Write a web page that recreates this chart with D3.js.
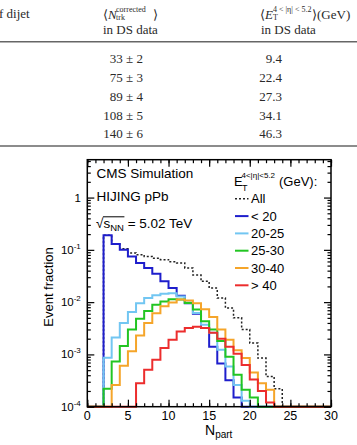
<!DOCTYPE html>
<html>
<head>
<meta charset="utf-8">
<script src="https://cdn.jsdelivr.net/npm/d3@7"></script>
<style>
  body { margin: 0; background: #fff; }
  svg { display: block; }
</style>
</head>
<body>
<div class="holder"></div>
<script>
// bins of N_part, width 1, from 0 to 30
const binLow = d3.range(0, 30);

// event fraction per bin (0 = empty bin)
const fracAll = [0, 0, 0.19, 0.13, 0.105, 0.087, 0.081, 0.075, 0.069, 0.065, 0.059, 0.056, 0.045, 0.033, 0.025,
  0.0186, 0.012, 0.0077, 0.005, 0.003, 0.00165, 0.00085, 0.00038, 0.00022, 0, 0, 0, 0, 0, 0];
const fracLt20 = [0, 0, 0.19, 0.13, 0.10, 0.075, 0.056, 0.045, 0.035, 0.025, 0.0186, 0.0132, 0.0095, 0.006, 0.0032,
  0.0014, 0.00067, 0.00032, 0.00015, 0, 0, 0, 0, 0, 0, 0, 0, 0, 0, 0];
const frac20to25 = [0, 0, 0.00086, 0.0021, 0.004, 0.0065, 0.0095, 0.012, 0.0135, 0.0145, 0.0148, 0.0128, 0.0098,
  0.0062, 0.0037, 0.0026, 0.00123, 0.00059, 0.00026, 0.00013, 0, 0, 0, 0, 0, 0, 0, 0, 0, 0];
const frac25to30 = [0, 0, 0.00022, 0.00073, 0.00145, 0.003, 0.0048, 0.0068, 0.0089, 0.0103, 0.0114, 0.0112, 0.0096,
  0.0072, 0.0043, 0.003, 0.0018, 0.0009, 0.00041, 0.00021, 0.00015, 0, 0, 0, 0, 0, 0, 0, 0, 0];
const frac30to40 = [0, 0, 0, 0.00026, 0.00061, 0.00115, 0.0023, 0.004, 0.0061, 0.0083, 0.0098, 0.0112, 0.0108,
  0.0095, 0.0073, 0.0052, 0.003, 0.0019, 0.0012, 0.00085, 0.00045, 0.00028, 0.00021, 0, 0, 0, 0, 0, 0, 0];
const fracGt40 = [0, 0, 0, 0, 0, 0, 0.00028, 0.00051, 0.00079, 0.00133, 0.0019, 0.00275, 0.0032, 0.0034, 0.0032,
  0.0026, 0.002, 0.0014, 0.00103, 0.00063, 0.00033, 0.0002, 0.00012, 0, 0, 0, 0, 0, 0, 0];

const seriesNames = ['All', '< 20', '20-25', '25-30', '30-40', '> 40'];
const seriesValues = [fracAll, fracLt20, frac20to25, frac25to30, frac30to40, fracGt40];
const seriesColors = ['#222', '#1e1ecc', '#72c6f2', '#22c522', '#f5a52a', '#ec2d2d'];

const xTicks = [0, 5, 10, 15, 20, 25, 30];
const yTicks = [1e-4, 1e-3, 1e-2, 1e-1, 1];
const yTickExp = [-4, -3, -2, -1, 0];

// table above the figure
const tableCol2 = ['33 ± 2', '75 ± 3', '89 ± 4', '108 ± 5', '140 ± 6'];
const tableCol3 = ['9.4', '22.4', '27.3', '34.1', '46.3'];

const W = 357, H = 445;
const plotL = 87.3, plotR = 331, plotT = 159.7, plotB = 406.7;
const sans = '"Liberation Sans", Arial, Helvetica, sans-serif';
const serif = '"Liberation Serif", "Times New Roman", serif';

const svg = d3.select('.holder').append('svg')
  .attr('width', W)
  .attr('height', H);

// ---- table part ----
const tbl = svg.append('g').attr('font-family', serif).attr('fill', '#2a2a2a').attr('font-size', 13);

tbl.append('text').attr('x', -1).attr('y', 18.3).text('f dijet');

const h2 = tbl.append('text').attr('x', 103).attr('y', 18.5);
h2.append('tspan').text('⟨');
h2.append('tspan').attr('font-style', 'italic').text('N');
tbl.append('text').attr('x', 116).attr('y', 11.5).attr('font-size', 8).text('corrected');
tbl.append('text').attr('x', 116).attr('y', 20).attr('font-size', 8).text('trk');
tbl.append('text').attr('x', 153).attr('y', 18.5).text('⟩');
tbl.append('text').attr('x', 103).attr('y', 33.5).text('in DS data');

const h3 = tbl.append('text').attr('x', 260).attr('y', 18.5);
h3.append('tspan').text('⟨');
h3.append('tspan').attr('font-style', 'italic').text('E');
tbl.append('text').attr('x', 273).attr('y', 11.5).attr('font-size', 8).text('4 < |η| < 5.2');
tbl.append('text').attr('x', 273).attr('y', 20).attr('font-size', 8).text('T');
tbl.append('text').attr('x', 312).attr('y', 18.5).text('⟩(GeV)');
tbl.append('text').attr('x', 261).attr('y', 33.5).text('in DS data');

tbl.append('line').attr('x1', 0).attr('x2', W).attr('y1', 41.7).attr('y2', 41.7)
  .attr('stroke', '#666').attr('stroke-width', 1.4);
tbl.append('line').attr('x1', 0).attr('x2', W).attr('y1', 146).attr('y2', 146)
  .attr('stroke', '#666').attr('stroke-width', 1.4);

const rowY = d3.scaleLinear().domain([0, 4]).range([63.3, 138.3]);
tbl.selectAll('.c2').data(tableCol2).enter().append('text')
  .attr('class', 'c2')
  .attr('x', 143).attr('y', (d, i) => rowY(i))
  .attr('text-anchor', 'end')
  .text(d => d);
tbl.selectAll('.c3').data(tableCol3).enter().append('text')
  .attr('class', 'c3')
  .attr('x', 282).attr('y', (d, i) => rowY(i))
  .attr('text-anchor', 'end')
  .text(d => d);

// ---- histogram plot ----
const x = d3.scaleLinear().domain([0, 30]).range([plotL, plotR]);
const y = d3.scaleLog().domain([1e-4, 5.3]).range([plotB, plotT]);
const yc = v => y(Math.max(v, 1e-4));

const stepLine = d3.line()
  .x(d => x(d[0]))
  .y(d => yc(d[1]));

seriesValues.forEach((vals, s) => {
  const pts = [];
  binLow.forEach((b, i) => {
    pts.push([b, vals[i]]);
    pts.push([b + 1, vals[i]]);
  });
  svg.append('path')
    .attr('d', stepLine(pts))
    .attr('fill', 'none')
    .attr('stroke', seriesColors[s])
    .attr('stroke-width', s === 0 ? 1.5 : 2)
    .attr('stroke-dasharray', s === 0 ? '2,2' : null);
});

// axes with inward ticks on all four sides
const xMinor = d3.range(0, 31);
const yMinor = [];
for (let k = -4; k <= 0; k++) {
  for (let m = 2; m <= 9; m++) {
    const v = m * Math.pow(10, k);
    if (v < 5.3) yMinor.push(v);
  }
}

function styleAxis(g) {
  g.select('.domain').remove();
  g.selectAll('text').remove();
  g.selectAll('line').attr('stroke', '#000').attr('stroke-width', 1.2);
}

svg.append('g').attr('transform', `translate(0,${plotB})`)
  .call(d3.axisBottom(x).tickValues(xMinor).tickSize(-3.5))
  .call(styleAxis);
svg.append('g').attr('transform', `translate(0,${plotB})`)
  .call(d3.axisBottom(x).tickValues(xTicks).tickSize(-7))
  .call(styleAxis);
svg.append('g').attr('transform', `translate(0,${plotT})`)
  .call(d3.axisTop(x).tickValues(xTicks).tickSize(-7))
  .call(styleAxis);
svg.append('g').attr('transform', `translate(0,${plotT})`)
  .call(d3.axisTop(x).tickValues(xMinor).tickSize(-3.5))
  .call(styleAxis);

svg.append('g').attr('transform', `translate(${plotL},0)`)
  .call(d3.axisLeft(y).tickValues(yTicks).tickSize(-7))
  .call(styleAxis);
svg.append('g').attr('transform', `translate(${plotL},0)`)
  .call(d3.axisLeft(y).tickValues(yMinor).tickSize(-3.5))
  .call(styleAxis);
svg.append('g').attr('transform', `translate(${plotR},0)`)
  .call(d3.axisRight(y).tickValues(yTicks).tickSize(-7))
  .call(styleAxis);
svg.append('g').attr('transform', `translate(${plotR},0)`)
  .call(d3.axisRight(y).tickValues(yMinor).tickSize(-3.5))
  .call(styleAxis);

// x tick labels
svg.append('g').attr('font-family', sans).attr('font-size', 12.5).attr('fill', '#000')
  .selectAll('text').data(xTicks).enter().append('text')
  .attr('x', d => x(d))
  .attr('y', plotB + 13)
  .attr('text-anchor', 'middle')
  .text(d => String(d));

// y tick labels as 10^n
const yLab = svg.append('g').attr('font-family', sans).attr('fill', '#000');
yTicks.forEach((v, i) => {
  const t = yLab.append('text')
    .attr('x', plotL - 6.5)
    .attr('y', y(v) + 4)
    .attr('text-anchor', 'end')
    .attr('font-size', 11.5);
  if (yTickExp[i] === 0) {
    t.text('1');
  } else {
    t.append('tspan').text('10');
    t.append('tspan').attr('dy', -5).attr('font-size', 8).text(String(yTickExp[i]));
  }
});

svg.append('rect')
  .attr('x', plotL).attr('y', plotT)
  .attr('width', plotR - plotL).attr('height', plotB - plotT)
  .attr('fill', 'none').attr('stroke', '#000').attr('stroke-width', 1.5);

// axis titles
svg.append('text')
  .attr('transform', 'translate(53,287) rotate(-90)')
  .attr('text-anchor', 'middle')
  .attr('font-family', sans).attr('font-size', 13)
  .text('Event fraction');

const xt = svg.append('text').attr('x', 205).attr('y', 435)
  .attr('font-family', sans).attr('font-size', 14);
xt.append('tspan').text('N');
xt.append('tspan').attr('dy', 3).attr('font-size', 10).text('part');

// labels in the frame
const lab = svg.append('g').attr('font-family', sans).attr('font-size', 13.5).attr('fill', '#000');
lab.append('text').attr('x', 96.5).attr('y', 178).text('CMS Simulation');
lab.append('text').attr('x', 96.5).attr('y', 201).text('HIJING pPb');
const rt = lab.append('text').attr('x', 96).attr('y', 227.5);
rt.append('tspan').text('√');
rt.append('tspan').text('s');
rt.append('tspan').attr('dy', 3).attr('font-size', 9.5).text('NN');
rt.append('tspan').attr('dy', -3).text(' = 5.02 TeV');
// overline of the square root
const rn = rt.node();
const ox1 = rn.getEndPositionOfChar(0).x - 0.5;
const ox2 = rn.getEndPositionOfChar(3).x + 0.5;
lab.append('line').attr('x1', ox1).attr('x2', ox2).attr('y1', 216.8).attr('y2', 216.8)
  .attr('stroke', '#000').attr('stroke-width', 1);

// legend
const leg = svg.append('g').attr('font-family', sans).attr('font-size', 13).attr('fill', '#000');
leg.append('text').attr('x', 234).attr('y', 186).text('E');
leg.append('text').attr('x', 242).attr('y', 190.5).attr('font-size', 9).text('T');
leg.append('text').attr('x', 241.5).attr('y', 177.5).attr('font-size', 8).text('4<|η|<5.2');
leg.append('text').attr('x', 279).attr('y', 186).text('(GeV):');

const legY = d3.scaleLinear().domain([0, 5]).range([203.3, 289.8]);
seriesNames.forEach((name, i) => {
  leg.append('line')
    .attr('x1', 235).attr('x2', 248.5)
    .attr('y1', legY(i) - 4.5).attr('y2', legY(i) - 4.5)
    .attr('stroke', seriesColors[i])
    .attr('stroke-width', i === 0 ? 1.5 : 2)
    .attr('stroke-dasharray', i === 0 ? '2,2' : null);
  leg.append('text').attr('x', 251).attr('y', legY(i)).text(name);
});
</script>
</body>
</html>
